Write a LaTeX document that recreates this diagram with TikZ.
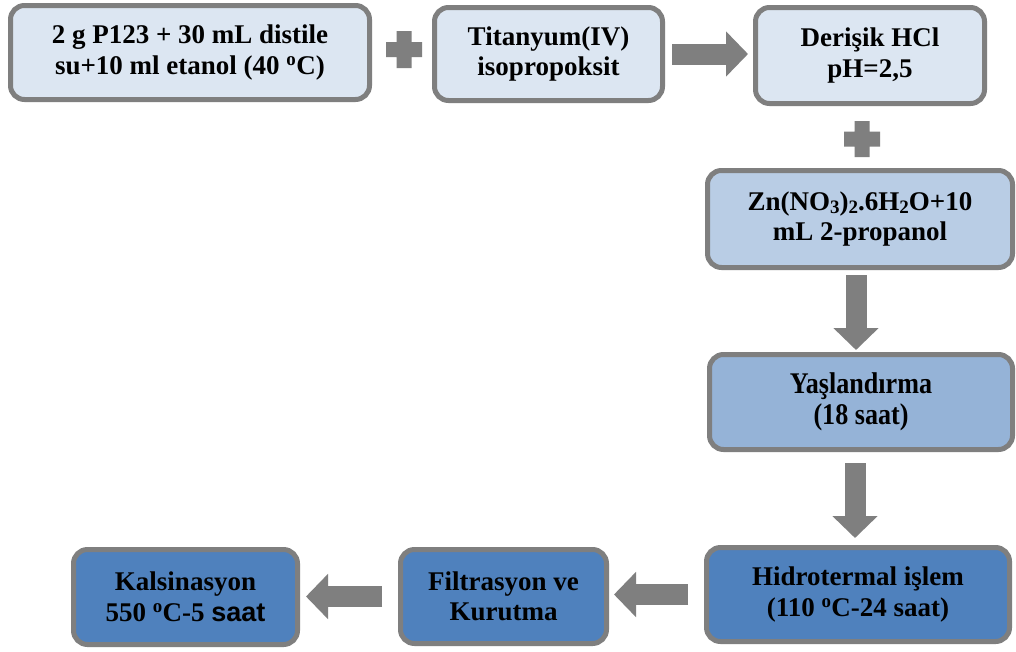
\documentclass[tikz,border=0pt]{standalone}
\usepackage{fontspec}
\setmainfont{Liberation Serif}
\newfontfamily\tallserif{Liberation Serif}[FakeStretch=0.87]
\newfontfamily\arialfont{Liberation Sans}
\usetikzlibrary{arrows.meta}
\definecolor{bordergray}{HTML}{7F7F7F}
\definecolor{fillA}{HTML}{DCE6F2}
\definecolor{fillB}{HTML}{B9CDE5}
\definecolor{fillC}{HTML}{95B3D7}
\definecolor{fillD}{HTML}{4F81BD}
\newcommand\chemsub[1]{\raisebox{-0.3ex}{\fontsize{19}{19}\selectfont #1}}
\newcommand\dego{\textsuperscript{o}}
\begin{document}
\begin{tikzpicture}[x=1pt,y=-1pt,
  box/.style={draw=bordergray, line width=5pt, rounded corners=14pt, align=center, inner sep=0pt,
    font=\fontsize{27}{30.5}\selectfont\bfseries},
  tallbox/.style={box, font=\tallserif\fontsize{30}{30.5}\selectfont\bfseries},
  bigarrow/.style={draw=bordergray, line width=21pt, -{Triangle[length=22pt,width=44pt]}},
  plusmark/.style={fill=bordergray}]
\useasboundingbox (0,0) rectangle (1016,651);
\fill[white] (0,0) rectangle (1016,651);

\node[box, fill=fillA, minimum width=359pt, minimum height=94pt] (b1) at (190,52.5)
  {2 g P123 + 30 mL distile\\su+10 ml etanol (40 \dego C)};
\node[box, fill=fillA, minimum width=228pt, minimum height=93pt] (b2) at (548.5,54)
  {Titanyum(IV)\\isopropoksit};
\node[box, fill=fillA, minimum width=229pt, minimum height=96pt] (b3) at (870,55.5)
  {Derişik HCl\\pH=2,5};
\node[box, fill=fillB, minimum width=305pt, minimum height=97pt] (b4) at (860,219)
  {Zn(NO\chemsub{3})\chemsub{2}.6H\chemsub{2}O+10\\mL 2-propanol};
\node[tallbox, fill=fillC, minimum width=303pt, minimum height=95pt] (b5) at (861,402)
  {Yaşlandırma\\(18 saat)};
\node[box, fill=fillD, minimum width=303pt, minimum height=94pt] (b6) at (858,594.5)
  {Hidrotermal işlem\\(110 \dego C-24 saat)};
\node[box, fill=fillD, minimum width=206pt, minimum height=94pt] (b7) at (503.5,596.5)
  {Filtrasyon ve\\Kurutma};
\node[box, fill=fillD, minimum width=224pt, minimum height=95pt] (b8) at (185.5,597)
  {Kalsinasyon\\550 \dego C-5 {\arialfont saat}};

% plus signs
\coordinate (p1) at (404,49.5);
\coordinate (p2) at (862,139);
\fill[plusmark, shift={(p1)}] (-18,-7.5) rectangle (18,7.5) (-7.5,-18.5) rectangle (7.5,18.5);
\fill[plusmark, shift={(p2)}] (-18,-7.5) rectangle (18,7.5) (-7.5,-18) rectangle (7.5,18);

% arrows
\draw[bigarrow, shorten <=7pt, shorten >=5pt] (b2.east) -- (b2.east -| b3.west);
\draw[bigarrow, shorten <=5pt, shorten >=2pt] ([xshift=-4pt]b4.south) -- ([xshift=-4pt]b4.south |- b5.north);
\draw[bigarrow, shorten <=11pt, shorten >=7pt] ([xshift=-6pt]b5.south) -- ([xshift=-6pt]b5.south |- b6.north);
\draw[bigarrow, shorten <=16pt, shorten >=5pt] (b6.west) -- (b6.west -| b7.east);
\draw[bigarrow, shorten <=16pt, shorten >=6pt] (b7.west) -- (b7.west -| b8.east);
\end{tikzpicture}
\end{document}
